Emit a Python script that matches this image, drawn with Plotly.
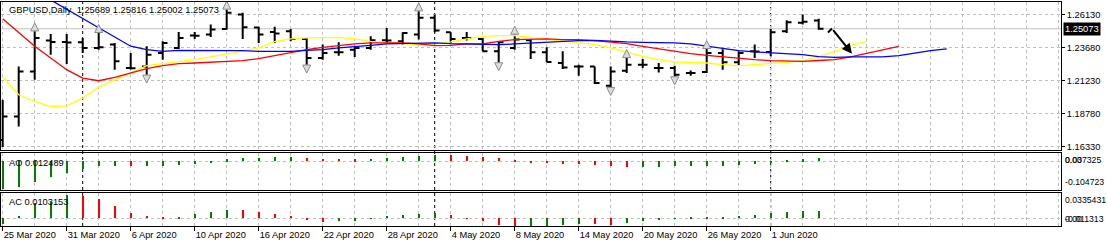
import plotly.graph_objects as go
from datetime import date

# ---------------- data ----------------
dates = ["2020-03-25", "2020-03-26", "2020-03-27", "2020-03-30", "2020-03-31",
         "2020-04-01", "2020-04-02", "2020-04-03", "2020-04-06", "2020-04-07",
         "2020-04-08", "2020-04-09", "2020-04-10", "2020-04-13", "2020-04-14",
         "2020-04-15", "2020-04-16", "2020-04-17", "2020-04-20", "2020-04-21",
         "2020-04-22", "2020-04-23", "2020-04-24", "2020-04-27", "2020-04-28",
         "2020-04-29", "2020-04-30", "2020-05-01", "2020-05-04", "2020-05-05",
         "2020-05-06", "2020-05-07", "2020-05-08", "2020-05-11", "2020-05-12",
         "2020-05-13", "2020-05-14", "2020-05-15", "2020-05-18", "2020-05-19",
         "2020-05-20", "2020-05-21", "2020-05-22", "2020-05-25", "2020-05-26",
         "2020-05-27", "2020-05-28", "2020-05-29", "2020-06-01", "2020-06-02",
         "2020-06-03", "2020-06-04"]

opens = [1.16829, 1.18563, 1.21911, 1.24200, 1.24099, 1.24069, 1.23652, 1.23898, 1.22164, 1.22283,
         1.23280, 1.23652, 1.24567, 1.24642, 1.25066, 1.26130, 1.25163, 1.24843, 1.24887, 1.24322,
         1.22908, 1.23325, 1.23526, 1.23652, 1.24218, 1.24143, 1.24642, 1.25885, 1.24813, 1.24396,
         1.24322, 1.23399, 1.23652, 1.24218, 1.23325, 1.22536, 1.22283, 1.22283, 1.20847, 1.21963,
         1.22410, 1.22164, 1.22164, 1.21792, 1.21866, 1.23280, 1.22581, 1.23399, 1.23355, 1.24887,
         1.25512, 1.25689]
highs = [1.19805, 1.22283, 1.24887, 1.24694, 1.24694, 1.24396, 1.24768, 1.24024, 1.23280, 1.23771,
         1.24143, 1.24843, 1.24843, 1.25386, 1.26502, 1.26257, 1.25215, 1.25215, 1.25066, 1.24396,
         1.23898, 1.24069, 1.23823, 1.24515, 1.25140, 1.24813, 1.26376, 1.26130, 1.24813, 1.24843,
         1.24396, 1.24143, 1.24642, 1.24322, 1.23697, 1.23399, 1.22410, 1.22283, 1.22283, 1.22908,
         1.22834, 1.22536, 1.22335, 1.21985, 1.23578, 1.23550, 1.23399, 1.23898, 1.25066, 1.25706,
         1.26130, 1.25816]
lows = [1.16308, 1.17819, 1.21293, 1.23154, 1.22462, 1.23280, 1.23526, 1.22038, 1.22050, 1.21665,
        1.22782, 1.23578, 1.24322, 1.24471, 1.25014, 1.24322, 1.24024, 1.24024, 1.24143, 1.22410,
        1.22782, 1.23079, 1.22983, 1.23526, 1.24024, 1.23898, 1.24270, 1.24813, 1.24024, 1.24195,
        1.23399, 1.22581, 1.23526, 1.22834, 1.22600, 1.22090, 1.21591, 1.20973, 1.20750, 1.21792,
        1.22164, 1.21837, 1.21539, 1.21591, 1.21792, 1.22038, 1.22335, 1.22908, 1.23027, 1.24768,
        1.25386, 1.25002]
closes = [1.18563, 1.21911, 1.24396, 1.24099, 1.24050, 1.23652, 1.23700, 1.22655, 1.22150, 1.23154,
          1.24024, 1.24396, 1.24560, 1.25014, 1.26257, 1.25185, 1.24642, 1.24716, 1.24322, 1.22908,
          1.23280, 1.23330, 1.23652, 1.24218, 1.24210, 1.24768, 1.25885, 1.24940, 1.24322, 1.24390,
          1.23399, 1.24069, 1.24270, 1.23325, 1.22610, 1.22209, 1.22280, 1.21048, 1.21911, 1.22410,
          1.22400, 1.22160, 1.21665, 1.21790, 1.23280, 1.22581, 1.23280, 1.23390, 1.24813, 1.25557,
          1.25587, 1.25073]

# Alligator lines; index = bar number, extending into the future
jaw_start = 2   # blue line begins at bar 2 (enters from above the window)
jaw = [1.27894, 1.27209, 1.26521, 1.25832, 1.25148, 1.24463, 1.23779, 1.23526, 1.23399, 1.23474,
       1.23474, 1.23474, 1.23474, 1.23451, 1.23399, 1.23377, 1.23399, 1.23474, 1.23526, 1.23652,
       1.23771, 1.23846, 1.23950, 1.23972, 1.24024, 1.24024, 1.23972, 1.23950, 1.23898, 1.23898,
       1.23950, 1.24024, 1.24099, 1.24143, 1.24195, 1.24218, 1.24143, 1.24099, 1.24069, 1.24069,
       1.24024, 1.23950, 1.23771, 1.23600, 1.23451, 1.23355, 1.23280, 1.23206, 1.23154, 1.23000,
       1.22953, 1.22983, 1.22983, 1.22983, 1.23079, 1.23280, 1.23451, 1.23578]
teeth = [1.25810, 1.24768, 1.23771, 1.22908, 1.22038, 1.21420, 1.21219, 1.21465, 1.21792, 1.22112,
         1.22335, 1.22484, 1.22536, 1.22581, 1.22655, 1.22707, 1.22856, 1.23079, 1.23325, 1.23526,
         1.23697, 1.23846, 1.23950, 1.24024, 1.24024, 1.24024, 1.23950, 1.23823, 1.23846, 1.23950,
         1.23950, 1.24143, 1.24270, 1.24322, 1.24322, 1.24270, 1.24270, 1.24195, 1.24099, 1.23972,
         1.23771, 1.23578, 1.23399, 1.23228, 1.23102, 1.22983, 1.22856, 1.22782, 1.22707, 1.22655,
         1.22655, 1.22720, 1.22782, 1.22983, 1.23228, 1.23526, 1.23771]
lips = [1.21494, 1.20177, 1.19679, 1.19307, 1.19359, 1.19932, 1.20750, 1.21293, 1.21792, 1.22335,
        1.22484, 1.22610, 1.22782, 1.22983, 1.23206, 1.23399, 1.23652, 1.24121, 1.24322, 1.24396,
        1.24396, 1.24441, 1.24322, 1.24143, 1.24024, 1.23950, 1.23898, 1.23950, 1.24099, 1.24322,
        1.24515, 1.24567, 1.24567, 1.24441, 1.24270, 1.24143, 1.24069, 1.23898, 1.23652, 1.23325,
        1.23027, 1.22782, 1.22610, 1.22581, 1.22536, 1.22410, 1.22335, 1.22410, 1.22484, 1.22581,
        1.22707, 1.22983, 1.23399, 1.23846, 1.24143]

ao = [-0.1178, -0.1095, -0.0862, -0.0654, -0.0487, -0.0333, -0.0208, -0.0196, -0.0208, -0.0196,
      -0.0187, -0.0154, -0.0125, -0.0042, 0.0083, 0.0112, 0.0125, 0.0158, 0.0167, 0.0125,
      0.0100, 0.0092, 0.0083, 0.0087, 0.0125, 0.0167, 0.0208, 0.0262, 0.0258, 0.0221,
      0.0179, 0.0137, 0.0042, -0.0042, -0.0083, -0.0125, -0.0133, -0.0167, -0.0208, -0.0262,
      -0.0250, -0.0237, -0.0216, -0.0208, -0.0204, -0.0191, -0.0167, -0.0125, -0.0054, 0.0042,
      0.0083, 0.012489]
ac = [-0.0071, 0.0032, 0.0212, 0.0236, 0.0335431, 0.0315, 0.0273, 0.0174, 0.0081, 0.0032,
      0.0010, 0.0014, 0.0057, 0.0085, 0.0120, 0.0117, 0.0095, 0.0061, 0.0032, -0.0024,
      -0.0052, -0.0032, -0.0031, 0.0003, 0.0032, 0.0047, 0.0061, 0.0081, 0.0047, -0.0004,
      -0.0038, -0.0095, -0.011313, -0.0112, -0.0109, -0.0095, -0.0079, -0.0082, -0.0085, -0.0061,
      -0.0032, -0.0024, -0.0007, 0.0011, 0.0014, 0.0016, 0.0032, 0.0047, 0.0081, 0.0095,
      0.0102, 0.0103153]

fractal_up = [2, 6, 14, 26, 32, 39, 44]
fractal_dn = [9, 19, 31, 38, 42]

price_ticks = [1.16330, 1.18780, 1.21230, 1.23680, 1.26130]
ao_labels = ["0.037325", "0.00", "-0.104723"]
ac_labels = ["0.0335431", "0.00", "-0.011313"]
symbol_name = "GBPUSD,Daily"

# user-drawn arrow object on the chart (bar index, price)
drawn_arrow_x = [51.58, 51.83, 53.08]
drawn_arrow_y = [1.24791, 1.25088, 1.23228]

# ---------------- styling ----------------
FONT = "Liberation Sans, Arial, sans-serif"
FS = 9.3
FS_SMALL = 8.7
GRID = "#c0c0c0"
GREEN = "#008000"
RED = "#ff0000"

n = len(dates)
idx = list(range(n))
dts = [date.fromisoformat(d) for d in dates]
label_idx = list(range(0, n, 4))
label_txt = [f"{dts[i].day} {dts[i].strftime('%b %Y')}" for i in label_idx]
separators = [i for i in range(1, n) if dts[i].month != dts[i - 1].month]

def colors(vals):
    out = [GREEN]
    for a, b in zip(vals[:-1], vals[1:]):
        out.append(GREEN if b > a else RED)
    return out

fig = go.Figure()

fig.add_trace(go.Ohlc(x=idx, open=opens, high=highs, low=lows, close=closes,
                      increasing=dict(line=dict(color="black", width=2)),
                      decreasing=dict(line=dict(color="black", width=2)),
                      tickwidth=0.3, xaxis="x", yaxis="y", hoverinfo="skip"))

fig.add_trace(go.Scatter(x=list(range(len(lips))), y=lips, mode="lines",
                         line=dict(color="#ffff00", width=1.3), xaxis="x", yaxis="y"))
fig.add_trace(go.Scatter(x=list(range(len(teeth))), y=teeth, mode="lines",
                         line=dict(color="#ff0000", width=1.3), xaxis="x", yaxis="y"))
fig.add_trace(go.Scatter(x=list(range(jaw_start, jaw_start + len(jaw))), y=jaw, mode="lines",
                         line=dict(color="#0000ff", width=1.3), xaxis="x", yaxis="y"))

frac_off = 0.0062
frac_marker = dict(size=8, color="#dcdcdc", line=dict(color="#8c8c8c", width=1))
fig.add_trace(go.Scatter(x=fractal_up, y=[highs[i] + frac_off for i in fractal_up], mode="markers",
                         marker=dict(symbol="arrow-up", **frac_marker), xaxis="x", yaxis="y"))
fig.add_trace(go.Scatter(x=fractal_dn, y=[lows[i] - frac_off for i in fractal_dn], mode="markers",
                         marker=dict(symbol="arrow-down", **frac_marker), xaxis="x", yaxis="y"))

fig.add_trace(go.Bar(x=idx, y=ao, marker=dict(color=colors(ao), line=dict(width=0)),
                     width=0.14, xaxis="x2", yaxis="y2"))
fig.add_trace(go.Bar(x=idx, y=ac, marker=dict(color=colors(ac), line=dict(width=0)),
                     width=0.14, xaxis="x3", yaxis="y3"))

x_range = [-0.106, 66.144]
major = dict(tickvals=label_idx, showgrid=True, gridcolor=GRID, griddash="3px,3px", gridwidth=1,
             minor=dict(tick0=0, dtick=2, showgrid=True, gridcolor=GRID, griddash="3px,3px",
                        gridwidth=1, ticks=""),
             showline=True, mirror=True, linecolor="black", linewidth=1, zeroline=False,
             range=x_range, fixedrange=True)

frame_y = dict(showline=True, mirror=True, linecolor="black", linewidth=1, zeroline=False,
               side="right", fixedrange=True, gridcolor=GRID, griddash="3px,3px", gridwidth=1)

fig.update_layout(
    width=1107, height=248,
    margin=dict(l=1, r=46, t=2, b=22),
    paper_bgcolor="white", plot_bgcolor="white",
    showlegend=False, hovermode=False, bargap=0,
    font=dict(family=FONT, size=FS, color="black"),
    xaxis=dict(anchor="y", showticklabels=False, ticks="", rangeslider=dict(visible=False), **major),
    xaxis2=dict(anchor="y2", matches="x", showticklabels=False, ticks="", **major),
    xaxis3=dict(anchor="y3", matches="x", ticktext=label_txt, ticks="outside", ticklen=4,
                tickcolor="black", ticklabelposition="outside right",
                tickfont=dict(family=FONT, size=FS, color="black"), **major),
    yaxis=dict(domain=[0.3393, 1.0], range=[1.16080, 1.27060], tickvals=price_ticks,
               ticktext=[f"{v:.5f}" for v in price_ticks], ticks="outside", ticklen=3,
               tickcolor="black", showgrid=True,
               tickfont=dict(family=FONT, size=FS, color="black"), **frame_y),
    yaxis2=dict(domain=[0.1629, 0.3259], range=[-0.1190, 0.0340], tickvals=[0],
                showticklabels=False, ticks="", showgrid=True, **frame_y),
    yaxis3=dict(domain=[0.0, 0.1482], range=[-0.01088, 0.03600], tickvals=[0],
                showticklabels=False, ticks="", showgrid=True, **frame_y),
)

# month separators
for s in separators:
    fig.add_shape(type="line", xref="x", yref="paper", x0=s, x1=s, y0=0, y1=1,
                  line=dict(color="black", width=1, dash="3px,3px"), layer="below")

# current price line
last_close = closes[-1]
fig.add_shape(type="line", xref="paper", yref="y", x0=0, x1=1, y0=last_close, y1=last_close,
              line=dict(color="#c0c0c0", width=1), layer="below")
fig.add_annotation(xref="paper", yref="y", x=1.0017, y=last_close, xanchor="left", yanchor="middle",
                   text=f"{last_close:.5f}", showarrow=False, bgcolor="black", borderpad=1,
                   font=dict(family=FONT, size=FS, color="white"))

# title line
fig.add_annotation(xref="paper", yref="paper", x=0.0057, y=0.964, xanchor="left", yanchor="middle",
                   text=f"{symbol_name}  {opens[-1]:.5f} {highs[-1]:.5f} {lows[-1]:.5f} {closes[-1]:.5f}",
                   showarrow=False, font=dict(family=FONT, size=FS, color="black"))
fig.add_annotation(xref="paper", yref="y2 domain", x=0.0057, y=0.72, xanchor="left", yanchor="middle",
                   text=f"AO {ao[-1]:.6f}", showarrow=False, font=dict(family=FONT, size=FS, color="black"))
fig.add_annotation(xref="paper", yref="y3 domain", x=0.0057, y=0.721, xanchor="left", yanchor="middle",
                   text=f"AC {ac[-1]:.7f}", showarrow=False, font=dict(family=FONT, size=FS, color="black"))

# indicator window scale labels
for txt, yy in zip(ao_labels, [0.80, 0.80, 0.213]):
    fig.add_annotation(xref="paper", yref="y2 domain", x=1.0033, y=yy, xanchor="left", yanchor="middle",
                       text=txt, showarrow=False, borderpad=0,
                       font=dict(family=FONT, size=FS_SMALL, color="black"))
for txt, yy in zip(ac_labels, [0.78, 0.217, 0.217]):
    fig.add_annotation(xref="paper", yref="y3 domain", x=1.0033, y=yy, xanchor="left", yanchor="middle",
                       text=txt, showarrow=False, borderpad=0,
                       font=dict(family=FONT, size=FS_SMALL, color="black"))

# drawn arrow object
fig.add_shape(type="line", xref="x", yref="y", x0=drawn_arrow_x[0], y0=drawn_arrow_y[0],
              x1=drawn_arrow_x[1], y1=drawn_arrow_y[1], line=dict(color="black", width=2))
fig.add_annotation(xref="x", yref="y", axref="x", ayref="y",
                   x=drawn_arrow_x[2], y=drawn_arrow_y[2], ax=drawn_arrow_x[1], ay=drawn_arrow_y[1],
                   text="", showarrow=True, arrowhead=2, arrowsize=1, arrowwidth=2, arrowcolor="black")

fig.write_html("out.html", config={"displayModeBar": False})
